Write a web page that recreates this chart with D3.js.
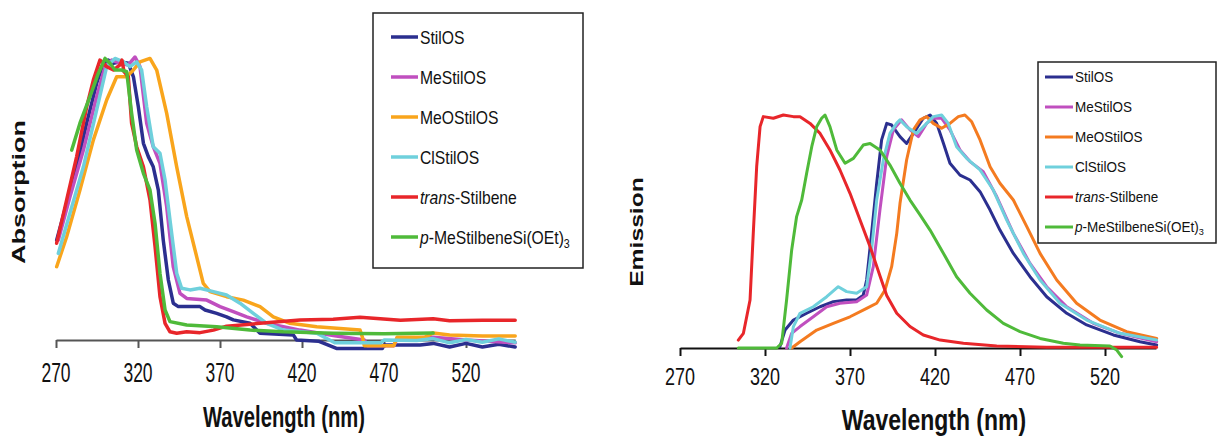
<!DOCTYPE html>
<html><head><meta charset="utf-8">
<script src="https://cdn.jsdelivr.net/npm/d3@7/dist/d3.min.js"></script>
<style>
body{margin:0;background:#fff;}
svg{display:block;font-family:"Liberation Sans",Arial,sans-serif;}
</style></head>
<body>
<svg id="chart" width="1218" height="439"></svg>
<script>
// ---------- DATA ----------
const seriesNames = ["StilOS","MeStilOS","MeOStilOS","ClStilOS","trans-Stilbene","p-MeStilbeneSi(OEt)3"];
const absColors = ["#2b2f8f","#c04fbf","#f9a51c","#6fd0dc","#e8262a","#4fba3a"];
const emColors  = ["#2b2f8f","#c04fbf","#f47b20","#6fd0dc","#e8262a","#4fba3a"];
const tickLabels = [270,320,370,420,470,520];
const xDomain = [270,550];

// Absorption spectra [wavelength nm, normalized absorbance]
const absStilOS = [[270.4,0.353],[276.5,0.483],[282.6,0.612],[288.7,0.766],[294.8,0.907],[298.9,0.978],[302,0.989],[305,0.978],[309,0.983],[314.1,0.978],[317.2,0.93],[320.2,0.824],[323.3,0.695],[326.3,0.648],[329.3,0.612],[332.4,0.53],[335.4,0.353],[338.5,0.212],[341.5,0.13],[344.6,0.118],[357.8,0.118],[360.9,0.106],[368,0.094],[374,0.082],[378.1,0.071],[388.3,0.059],[394.4,0.024],[414.7,0.018],[416.7,0.0],[430,-0.004],[441,-0.03],[469,-0.03],[470,-0.018],[492,-0.018],[500,-0.012],[510,-0.025],[520,-0.012],[530,-0.025],[540,-0.015],[550,-0.025]];
const absMeStilOS = [[271.4,0.353],[278.5,0.506],[286.7,0.671],[294.8,0.86],[299.9,0.966],[304,0.989],[309,0.978],[314.1,0.972],[318.2,1.0],[321.2,0.966],[325.3,0.766],[329.3,0.683],[333.4,0.624],[337.5,0.471],[341.5,0.259],[345.6,0.165],[349.7,0.147],[361.9,0.141],[370,0.118],[378.1,0.1],[386.3,0.082],[398.5,0.059],[418.8,0.035],[440,0.015],[458,0.0],[460,-0.02],[476,-0.02],[478,0.005],[500,0.01],[520,0.0],[550,-0.01]];
const absMeOStilOS = [[270.4,0.259],[276.5,0.365],[284.6,0.53],[292.8,0.707],[300.9,0.848],[307,0.93],[313.1,0.93],[317.2,0.954],[321.2,0.983],[327.3,0.995],[331.4,0.954],[337.5,0.801],[343.6,0.612],[349.7,0.436],[355.8,0.294],[359.8,0.2],[363.9,0.171],[374,0.153],[384.2,0.141],[394.4,0.118],[402.5,0.082],[412.7,0.059],[429,0.047],[455.4,0.035],[457,0.007],[458,-0.02],[476,-0.02],[478,0.01],[495,0.01],[500,0.025],[510,0.018],[530,0.014],[550,0.014]];
const absClStilOS = [[271.4,0.306],[278.5,0.448],[286.7,0.612],[294.8,0.813],[300.9,0.966],[306,0.995],[311.1,0.983],[315.1,0.966],[319.2,0.983],[322.2,0.954],[325.3,0.824],[329.3,0.683],[333.4,0.66],[336.5,0.565],[339.5,0.424],[343.6,0.236],[346.6,0.183],[351.7,0.177],[357.8,0.183],[366,0.171],[374,0.159],[382.2,0.13],[390.3,0.094],[398.5,0.059],[408.6,0.035],[429,0.024],[440,-0.01],[468,-0.01],[470,0.0],[490,-0.002],[500,0.005],[510,-0.01],[520,0.002],[530,-0.008],[540,0.004],[550,-0.008]];
const absTrans = [[270.4,0.342],[276.5,0.495],[282.6,0.648],[288.7,0.824],[292.8,0.919],[296.8,0.989],[300.9,0.966],[305,0.954],[309,0.972],[310.2,0.989],[311.5,0.948],[314.1,0.93],[316.1,0.766],[319.2,0.683],[323.3,0.612],[327.3,0.495],[330.4,0.33],[333.4,0.153],[336.5,0.059],[339.5,0.029],[343.6,0.024],[349.7,0.029],[357.8,0.026],[366,0.035],[374,0.049],[394.4,0.059],[418.8,0.071],[439,0.073],[455.4,0.08],[480,0.07],[500,0.075],[510,0.068],[530,0.07],[550,0.07]];
const absPMe = [[279.6,0.671],[284.6,0.766],[290.7,0.86],[295.8,0.942],[299.9,0.995],[302.9,0.978],[306,0.954],[310,0.954],[313.1,0.948],[316.1,0.801],[319.2,0.671],[323.3,0.589],[327.3,0.53],[330.4,0.412],[333.4,0.236],[336.5,0.106],[339.5,0.065],[349.7,0.053],[368,0.047],[388.3,0.035],[408.6,0.029],[439,0.024],[470,0.022],[500,0.025]];

// Emission spectra [wavelength nm, normalized intensity]
const emStilOS = [[328.8,0.006],[331.8,0.077],[336.7,0.12],[344.5,0.149],[352.4,0.177],[360.2,0.199],[368,0.206],[373.9,0.206],[377.8,0.227],[379.8,0.292],[382.7,0.492],[385.7,0.707],[388.6,0.893],[391.6,0.964],[394.5,0.957],[399.4,0.907],[403.3,0.878],[407.3,0.921],[413.1,0.986],[417.1,1.0],[421,0.964],[425,0.878],[428.8,0.793],[434.7,0.742],[440.6,0.721],[446.5,0.671],[452.4,0.592],[458.2,0.506],[466.1,0.406],[475.9,0.306],[485.7,0.22],[497.5,0.149],[509.2,0.099],[524.9,0.056],[540.6,0.027],[550.4,0.013]];
const emMeStilOS = [[332.7,0.0],[335.7,0.063],[340.6,0.092],[348.4,0.134],[356.3,0.177],[364.1,0.192],[373.9,0.199],[379.8,0.227],[383.7,0.349],[387.6,0.592],[391.6,0.821],[395.5,0.936],[400.4,0.979],[405.3,0.936],[410.2,0.907],[415.1,0.964],[419,0.986],[423.9,0.986],[428.8,0.936],[434.7,0.85],[440.6,0.8],[448.4,0.757],[456.3,0.65],[466.1,0.492],[475.9,0.363],[485.7,0.263],[497.5,0.177],[513.1,0.106],[528.8,0.063],[550.4,0.027]];
const emMeOStilOS = [[335.7,0.0],[340.6,0.027],[350.4,0.077],[360.2,0.106],[370,0.134],[379.8,0.17],[385.7,0.192],[390.6,0.249],[394.5,0.349],[397.5,0.492],[399.4,0.62],[403.3,0.807],[407.3,0.936],[411.2,0.979],[415.1,0.993],[419,0.964],[423.9,0.943],[428.8,0.964],[433.7,0.993],[437.6,1.0],[441.6,0.971],[446.5,0.893],[452.4,0.778],[458.2,0.707],[466.1,0.635],[474,0.521],[481.8,0.406],[491.6,0.292],[503.3,0.192],[517,0.12],[532.7,0.07],[550.4,0.041]];
const emClStilOS = [[334.7,0.0],[336.7,0.092],[340.6,0.149],[348.4,0.177],[356.3,0.22],[363.1,0.263],[368,0.242],[373.9,0.235],[379.8,0.263],[382.7,0.421],[385.7,0.635],[389.6,0.807],[393.5,0.921],[397.5,0.965],[399.4,0.979],[403.3,0.95],[409.2,0.921],[415.1,0.964],[419,0.993],[423.9,1.0],[427.8,0.964],[432.7,0.864],[438.6,0.814],[446.5,0.764],[454.3,0.678],[462.2,0.549],[472,0.406],[481.8,0.292],[493.5,0.192],[509.2,0.12],[528.8,0.063],[550.4,0.034]];
const emTrans = [[304.3,0.034],[307.3,0.063],[311.2,0.206],[313.1,0.492],[315.1,0.778],[317.1,0.95],[319,0.993],[324.9,0.986],[330.8,1.0],[336.7,0.993],[340.6,0.993],[346.5,0.964],[352.4,0.921],[358.2,0.85],[364.1,0.764],[370,0.664],[375.9,0.549],[381.8,0.435],[387.6,0.31],[391.6,0.225],[397.5,0.149],[405.3,0.092],[413.1,0.056],[423,0.034],[436.7,0.02],[456.3,0.009],[485.7,0.003],[550.4,0.003]];
const emPMe = [[304.3,0.0],[326.9,0.0],[329.8,0.02],[332.7,0.206],[335.7,0.421],[338.6,0.564],[341.6,0.635],[344.5,0.75],[347.5,0.864],[350.4,0.95],[353.3,0.986],[355.3,1.0],[358.2,0.95],[362.2,0.85],[367.1,0.793],[372,0.814],[377.8,0.871],[381.8,0.878],[387.6,0.85],[393.5,0.785],[399.4,0.707],[405.3,0.635],[411.2,0.571],[417.1,0.506],[425,0.406],[432.7,0.306],[440.6,0.235],[450.4,0.163],[460.2,0.106],[470,0.07],[481.8,0.041],[495.5,0.02],[505.3,0.013],[522.9,0.009],[526.9,-0.009],[529.8,-0.037]];

const absSeries = [absStilOS,absMeStilOS,absMeOStilOS,absClStilOS,absTrans,absPMe];
const emSeries  = [emStilOS,emMeStilOS,emMeOStilOS,emClStilOS,emTrans,emPMe];

// ---------- DRAW ----------
const svg = d3.select("#chart");

function hText(g, x, y, txt, size, sy, weight, anchor){
  return g.append("text").attr("transform",`translate(${x},${y}) scale(1,${sy})`)
    .attr("text-anchor",anchor||"middle").attr("font-size",size).attr("font-weight",weight||"normal")
    .attr("fill","#111").text(txt);
}

function legendLabel(t, name, size){
  if(name==="trans-Stilbene"){
    t.append("tspan").attr("font-style","italic").text("trans");
    t.append("tspan").text("-Stilbene");
  } else if(name.startsWith("p-")){
    t.append("tspan").attr("font-style","italic").text("p");
    t.append("tspan").text("-MeStilbeneSi(OEt)");
    t.append("tspan").attr("font-size",size*0.68).attr("dy",size*0.22).text("3");
  } else t.text(name);
}

function panel(cfg){
  const x = d3.scaleLinear().domain(xDomain).range(cfg.xr);
  const y = d3.scaleLinear().domain([0,1]).range(cfg.yr);
  const g = svg.append("g");
  // axis
  const ax = g.append("g").attr("transform",`translate(0,${cfg.yr[0]})`)
    .call(d3.axisBottom(x).tickValues(tickLabels).tickSize(cfg.tick).tickSizeOuter(0).tickFormat(""));
  ax.select(".domain").attr("stroke",cfg.axisColor).attr("stroke-width",2);
  ax.selectAll(".tick line").attr("stroke",cfg.axisColor).attr("stroke-width",2);
  tickLabels.forEach(t=>hText(g, x(t), cfg.tickBase, String(t), cfg.tickSize, cfg.tickSY));
  // lines
  const line = d3.line().x(d=>x(d[0])).y(d=>y(d[1]));
  cfg.series.forEach((s,i)=>{
    g.append("path").datum(s).attr("d",line).attr("fill","none")
     .attr("stroke",cfg.colors[i]).attr("stroke-width",cfg.lw)
     .attr("stroke-linejoin","round").attr("stroke-linecap","round");
  });
  // x title
  hText(g, cfg.xtitle[0], cfg.xtitle[1], "Wavelength (nm)", cfg.xtitle[2], cfg.xtitle[3], "bold");
  // y title
  g.append("text").attr("transform",`translate(${cfg.ytitle[0]},${cfg.ytitle[1]}) rotate(-90) scale(${cfg.ytitle[3]},1)`)
   .attr("text-anchor","middle").attr("font-size",cfg.ytitle[2]).attr("font-weight","bold").attr("fill","#111").text(cfg.ytitleText);
  // legend
  const L = cfg.legend;
  g.append("rect").attr("x",L.x).attr("y",L.y).attr("width",L.w).attr("height",L.h)
   .attr("fill","#fff").attr("stroke","#222").attr("stroke-width",1.5);
  seriesNames.forEach((n,i)=>{
    const yy = L.row0 + i*L.step;
    g.append("line").attr("x1",L.lx1).attr("x2",L.lx2).attr("y1",yy).attr("y2",yy)
     .attr("stroke",cfg.colors[i]).attr("stroke-width",L.lw);
    const t = g.append("text").attr("transform",`translate(${L.tx},${yy+L.size*0.36*L.sy}) scale(1,${L.sy})`)
     .attr("font-size",L.size).attr("fill","#111");
    legendLabel(t,n,L.size);
  });
}

panel({xr:[56,515.2], yr:[340,57], tick:8, axisColor:"#555", tickBase:382, tickSize:17.5, tickSY:1.58,
  series:absSeries, colors:absColors, lw:3.5,
  xtitle:[284,427,20.2,1.5], ytitle:[25,192,18,1.5], ytitleText:"Absorption",
  legend:{x:373,y:13,w:210,h:255,row0:37,step:40,lx1:391,lx2:418,tx:420,size:15.7,sy:1.2,lw:3.5}});

panel({xr:[680,1156], yr:[348,115], tick:8, axisColor:"#111", tickBase:385, tickSize:18, tickSY:1.32,
  series:emSeries, colors:emColors, lw:3,
  xtitle:[934,430,23,1.25], ytitle:[643,232,19,1.3], ytitleText:"Emission",
  legend:{x:1038,y:62,w:178,h:181,row0:77,step:30,lx1:1045,lx2:1073,tx:1075,size:13.5,sy:1.05,lw:3}});
</script>
</body></html>
